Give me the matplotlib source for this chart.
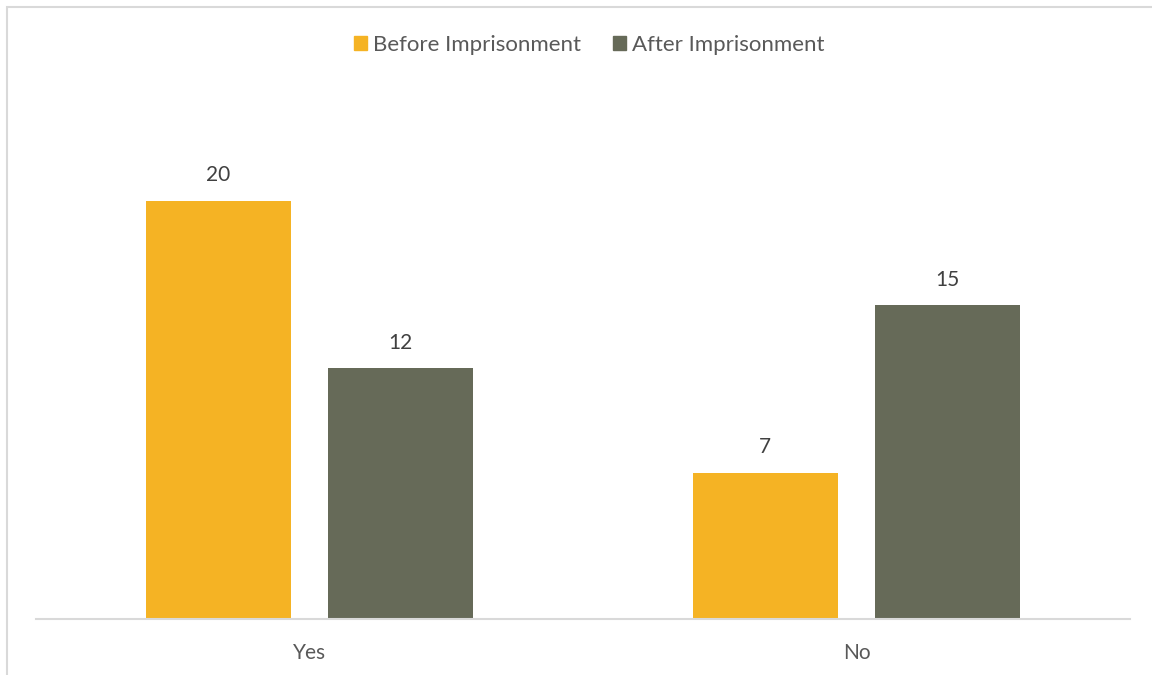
import numpy as np
import matplotlib.pyplot as plt
from matplotlib.patches import Rectangle

categories = ["Yes", "No"]
before = [20, 7]
after = [12, 15]
series_names = ["Before Imprisonment", "After Imprisonment"]
colors = ["#F5B324", "#666A58"]

plt.rcParams['font.family'] = ['Lato', 'DejaVu Sans']

fig = plt.figure(figsize=(11.52, 6.75), dpi=100)
W, H = 1152, 675
ax = fig.add_axes([36 / W, 1 - 619 / H, 1094 / W, 522.5 / H])

x = np.arange(len(categories))
width = 0.265
off = 0.1668
for vals, c, d in [(before, colors[0], -off), (after, colors[1], off)]:
    bars = ax.bar(x + d, vals, width, color=c, zorder=2)
    for b, v in zip(bars, vals):
        ax.text(b.get_x() + b.get_width() / 2, v + 0.75, str(v), ha='center',
                va='bottom', fontsize=15, color='#404040')

ax.set_xlim(-0.5, 1.5)
ax.set_ylim(0, 25)
ax.set_yticks([])
ax.set_xticks(x)
ax.set_xticklabels(categories, fontsize=15, color='#595959')
ax.tick_params(axis='x', length=0, pad=17)
for s in ['top', 'right', 'left']:
    ax.spines[s].set_visible(False)
ax.spines['bottom'].set_color('#D9D9D9')
ax.spines['bottom'].set_linewidth(1.5)

handles = [Rectangle((0, 0), 1, 1, color=c) for c in colors]
fig.legend(handles, series_names, loc='center', bbox_to_anchor=(589 / W, 1 - 45 / H),
           ncol=2, frameon=False, fontsize=16, labelcolor='#595959',
           handlelength=0.6, handleheight=0.6, handletextpad=0.25, columnspacing=1.45)

# outer chart frame
fig.patches.append(Rectangle((6.5 / W, -0.1), 1.2, 1 - 7.5 / H + 0.1, transform=fig.transFigure,
                             fill=False, edgecolor='#D9D9D9', linewidth=1.5))

fig.savefig('out.png', dpi=100)
